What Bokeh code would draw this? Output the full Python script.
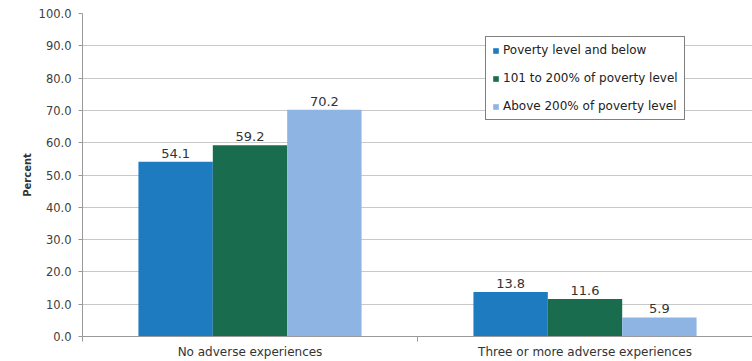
from bokeh.plotting import figure
from bokeh.models import ColumnDataSource, FixedTicker, Range1d, Legend, LegendItem
from bokeh.core.properties import value
from bokeh.embed import file_html
from bokeh.resources import INLINE

categories = ["No adverse experiences", "Three or more adverse experiences"]
series_names = ["Poverty level and below", "101 to 200% of poverty level", "Above 200% of poverty level"]
poverty_below = [54.1, 13.8]
poverty_101_200 = [59.2, 11.6]
above_200 = [70.2, 5.9]
colors = ["#1f7bc0", "#1a6c4f", "#8db4e2"]
y_ticks = [0, 10, 20, 30, 40, 50, 60, 70, 80, 90, 100]

FONT = "DejaVu Sans"

p = figure(width=752, height=361, output_backend="svg", toolbar_location=None,
           x_range=Range1d(0, 2), y_range=Range1d(0, 100),
           min_border_left=82, min_border_top=13, min_border_bottom=24, min_border_right=0)
p.outline_line_color = None
p.background_fill_color = "white"

bw = 0.222
offsets = [-bw, 0.0, bw]
series = [poverty_below, poverty_101_200, above_200]
items = []
for i, (vals, name, col) in enumerate(zip(series, series_names, colors)):
    xs = [j + 0.5 + offsets[i] for j in range(len(categories))]
    src = ColumnDataSource(dict(x=xs, top=vals, lab=[f"{v:.1f}" for v in vals]))
    r = p.vbar(x="x", top="top", width=bw, source=src, fill_color=col, line_color=None)
    p.text(x="x", y="top", text="lab", source=src, text_align="center", text_baseline="bottom",
           y_offset=-4, text_font=value(FONT), text_font_size="13px", text_color="#333333")
    items.append(LegendItem(label=name, renderers=[r]))

# axes
p.yaxis.ticker = FixedTicker(ticks=y_ticks)
p.yaxis.major_label_overrides = {t: f"{t:.1f}" for t in y_ticks}
p.yaxis.minor_tick_line_color = None
p.yaxis.major_tick_out = 4
p.yaxis.major_tick_in = 0
p.yaxis.major_tick_line_color = "#999999"
p.yaxis.axis_line_color = "#999999"
p.yaxis.major_label_text_font = FONT
p.yaxis.major_label_text_font_size = "11.5px"
p.yaxis.major_label_text_color = "#404040"
p.yaxis.major_label_standoff = 7
p.yaxis.axis_label = "Percent"
p.yaxis.axis_label_text_font = FONT
p.yaxis.axis_label_text_font_style = "bold"
p.yaxis.axis_label_text_font_size = "10px"
p.yaxis.axis_label_text_color = "#333333"
p.yaxis.axis_label_standoff = 3

p.xaxis.ticker = FixedTicker(ticks=[0.5, 1.5], minor_ticks=[0, 1, 2])
p.xaxis.major_label_overrides = {0.5: categories[0], 1.5: categories[1]}
p.xaxis.major_tick_line_color = None
p.xaxis.major_tick_out = 0
p.xaxis.minor_tick_out = 5
p.xaxis.minor_tick_in = 0
p.xaxis.minor_tick_line_color = "#999999"
p.xaxis.axis_line_color = "#999999"
p.xaxis.major_label_text_font = FONT
p.xaxis.major_label_text_font_size = "12px"
p.xaxis.major_label_text_color = "#333333"
p.xaxis.major_label_standoff = 3

p.xgrid.grid_line_color = None
p.ygrid.ticker = FixedTicker(ticks=y_ticks)
p.ygrid.grid_line_color = "#c8c8c8"
p.ygrid.grid_line_width = 1

legend = Legend(items=items, location=(403, 216), orientation="vertical")
legend.border_line_color = "black"
legend.border_line_width = 1
legend.background_fill_color = "white"
legend.background_fill_alpha = 1
legend.label_text_font = FONT
legend.label_text_font_size = "12px"
legend.label_text_color = "#222222"
legend.glyph_width = 7
legend.glyph_height = 7
legend.label_height = 14
legend.label_standoff = 4
legend.spacing = 14
legend.padding = 6
legend.margin = 0
p.add_layout(legend, "center")

open("out.html", "w").write(file_html(p, INLINE))
